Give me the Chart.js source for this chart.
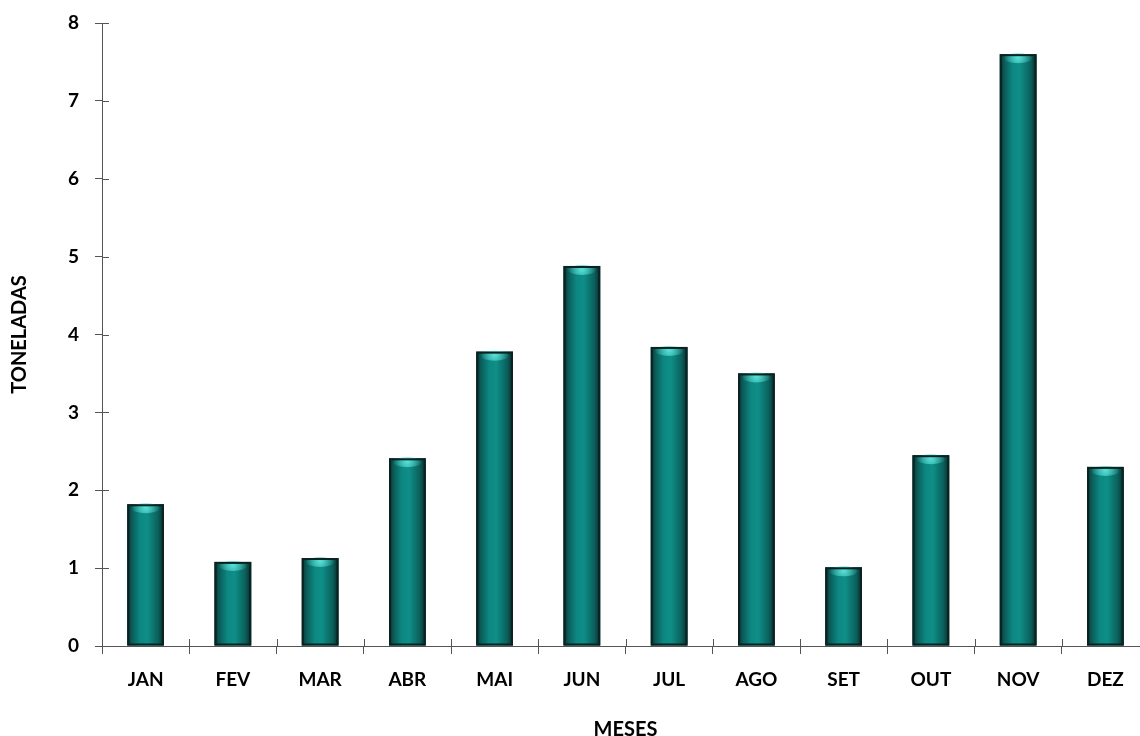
<!DOCTYPE html>
<html>
<head>
<meta charset="utf-8">
<script src="https://cdn.jsdelivr.net/npm/chart.js@4.4.1/dist/chart.umd.min.js"></script>
<style>
  html, body { margin: 0; padding: 0; background: #fff; overflow: hidden; }
  #wrap { width: 1150px; height: 736px; position: relative; }
</style>
</head>
<body>
<div id="wrap"><canvas id="chart"></canvas></div>
<script>
// --- data ---
const months = ['JAN', 'FEV', 'MAR', 'ABR', 'MAI', 'JUN', 'JUL', 'AGO', 'SET', 'OUT', 'NOV', 'DEZ'];
const tons = [1.82, 1.08, 1.13, 2.41, 3.78, 4.88, 3.84, 3.50, 1.01, 2.45, 7.60, 2.30];
const yTicks = [0, 1, 2, 3, 4, 5, 6, 7, 8];

const font = { family: "Lato, 'Open Sans', sans-serif", weight: 'bold', size: 19 };
const titleFont = { ...font, size: 20 };

// shaded "cylinder" look for each bar + crossing tick marks
const barShade = {
    id: 'barShade',
    afterDatasetsDraw(chart) {
        const ctx = chart.ctx;
        chart.getDatasetMeta(0).data.forEach(bar => {
            const l = bar.x - bar.width / 2, r = bar.x + bar.width / 2;
            const t = bar.y, b = bar.base;
            const g = ctx.createLinearGradient(l, 0, r, 0);
            g.addColorStop(0, '#0a2c2b');
            g.addColorStop(0.12, '#0b5a57');
            g.addColorStop(0.35, '#0d8781');
            g.addColorStop(0.55, '#0f8e88');
            g.addColorStop(0.85, '#0b5e5a');
            g.addColorStop(1, '#082827');
            ctx.save();
            ctx.fillStyle = g;
            ctx.fillRect(l, t, r - l, b - t);
            // top highlight
            const h = ctx.createRadialGradient(bar.x, t + 3, 1, bar.x, t + 3, bar.width * 0.4);
            h.addColorStop(0, 'rgba(90,225,215,0.95)');
            h.addColorStop(1, 'rgba(90,225,215,0)');
            ctx.fillStyle = h;
            ctx.beginPath();
            ctx.ellipse(bar.x, t + 4, bar.width * 0.38, 5, 0, 0, Math.PI * 2);
            ctx.fill();
            ctx.strokeStyle = '#0c2221';
            ctx.lineWidth = 2;
            ctx.strokeRect(l + 1, t + 1, r - l - 2, b - t - 2);
            ctx.restore();
        });
        // inner half of the tick marks
        const xs = chart.scales.x, ys = chart.scales.y;
        ctx.save();
        ctx.strokeStyle = '#555';
        ctx.lineWidth = 1;
        ctx.beginPath();
        ys.ticks.forEach((tk, i) => {
            const py = Math.round(ys.getPixelForTick(i)) + 0.5;
            ctx.moveTo(xs.left, py); ctx.lineTo(xs.left + 7, py);
        });
        for (let i = 0; i <= months.length; i++) {
            const px = Math.round(xs.left + (xs.right - xs.left) * i / months.length) + 0.5;
            ctx.moveTo(px, ys.bottom); ctx.lineTo(px, ys.bottom - 7);
        }
        ctx.stroke();
        ctx.restore();
    }
};

new Chart(document.getElementById('chart'), {
    type: 'bar',
    data: {
        labels: months,
        datasets: [{ data: tons, backgroundColor: '#0d8781', barPercentage: 0.42, categoryPercentage: 1 }]
    },
    options: {
        responsive: true, maintainAspectRatio: false, animation: false,
        layout: { padding: { top: 23, right: 1, left: 0, bottom: 0 } },
        plugins: { legend: { display: false }, tooltip: { enabled: false } },
        scales: {
            x: {
                grid: { drawOnChartArea: false, color: '#555', tickLength: 8, offset: true },
                border: { color: '#555' },
                ticks: { color: '#000', font: font, padding: 14, maxRotation: 0 },
                title: { display: true, text: 'MESES', color: '#000', font: titleFont, padding: { top: 0, bottom: -6 } },
                afterFit: s => { s.height = 90; }
            },
            y: {
                min: 0, max: 8,
                afterBuildTicks: s => { s.ticks = yTicks.map(v => ({ value: v })); },
                grid: { drawOnChartArea: false, color: '#555', tickLength: 7 },
                border: { color: '#555' },
                ticks: { color: '#000', font: font, padding: 16 },
                title: { display: true, text: 'TONELADAS', color: '#000', font: titleFont, padding: { top: 8, bottom: 0 } },
                afterFit: s => { s.width = 102; s.paddingTop = 0; s.paddingBottom = 0; }
            }
        }
    },
    plugins: [barShade]
});
</script>
</body>
</html>
